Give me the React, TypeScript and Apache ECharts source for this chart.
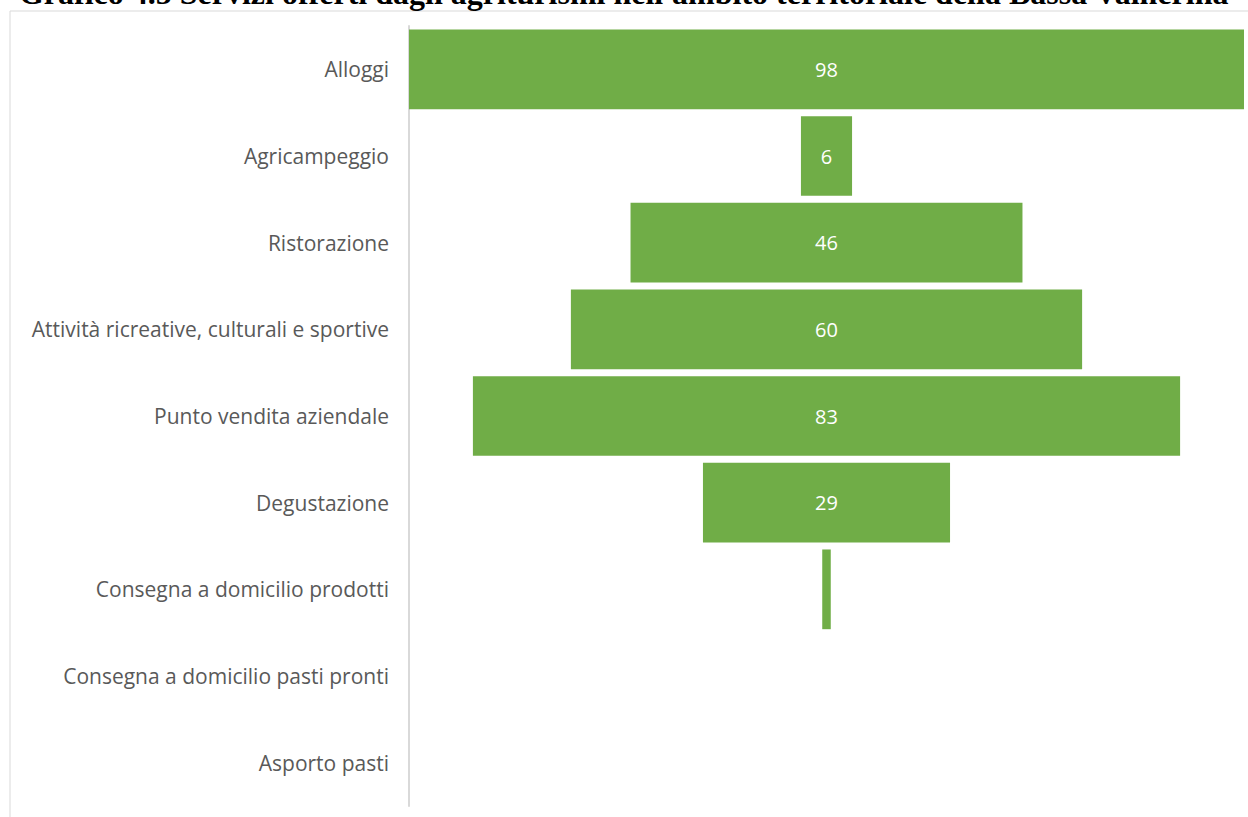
import React, { useEffect, useRef } from "react";
import * as echarts from "echarts";

const categories = [
  "Alloggi",
  "Agricampeggio",
  "Ristorazione",
  "Attività ricreative, culturali e sportive",
  "Punto vendita aziendale",
  "Degustazione",
  "Consegna a domicilio prodotti",
  "Consegna a domicilio pasti pronti",
  "Asporto pasti",
];
const values = [98, 6, 46, 60, 83, 29, 1, 0, 0];
const titleText =
  "Grafico 4.5 Servizi offerti dagli agriturismi nell'ambito territoriale della Bassa Valnerina";

export default function App() {
  const ref = useRef<HTMLDivElement>(null);
  useEffect(() => {
    const chart = echarts.init(ref.current!, null, { renderer: "svg" });
    const maxV = Math.max(...values);
    const offsets = values.map((v) => (maxV - v) / 2);
    chart.setOption({
      animation: false,
      backgroundColor: "#ffffff",
      graphic: [
        {
          type: "rect",
          shape: { x: 10, y: 11, width: 1250, height: 820 },
          style: { fill: "none", stroke: "#d9d9d9", lineWidth: 1 },
          silent: true,
        },
        {
          type: "text",
          left: "center",
          top: -23,
          style: {
            text: titleText,
            font: "bold 32px 'Liberation Serif', 'Times New Roman', serif",
            fill: "#000000",
          },
          z: 10,
        },
      ],
      grid: { left: 409, right: 4, top: 26, bottom: 11, containLabel: false },
      xAxis: {
        type: "value",
        min: 0,
        max: maxV,
        show: false,
      },
      yAxis: {
        type: "category",
        data: categories,
        inverse: true,
        axisLine: { show: true, lineStyle: { color: "#d9d9d9", width: 2 } },
        axisTick: { show: false },
        axisLabel: {
          color: "#595959",
          fontSize: 21,
          fontFamily: "'Open Sans', sans-serif",
          margin: 20,
        },
        splitLine: { show: false },
      },
      series: [
        {
          type: "bar",
          stack: "f",
          data: offsets,
          itemStyle: { color: "transparent" },
          barCategoryGap: "8%",
          silent: true,
        },
        {
          type: "bar",
          stack: "f",
          data: values,
          itemStyle: { color: "#70ad47" },
          barCategoryGap: "8%",
          label: {
            show: true,
            position: "inside",
            color: "#ffffff",
            fontSize: 20,
            fontFamily: "'Open Sans', sans-serif",
            formatter: (p: any) => (p.value >= 2 ? String(p.value) : ""),
          },
        },
      ],
    });
    return () => chart.dispose();
  }, []);
  return (
    <div
      ref={ref}
      style={{ position: "fixed", left: 0, top: 0, width: 1248, height: 817 }}
    />
  );
}
